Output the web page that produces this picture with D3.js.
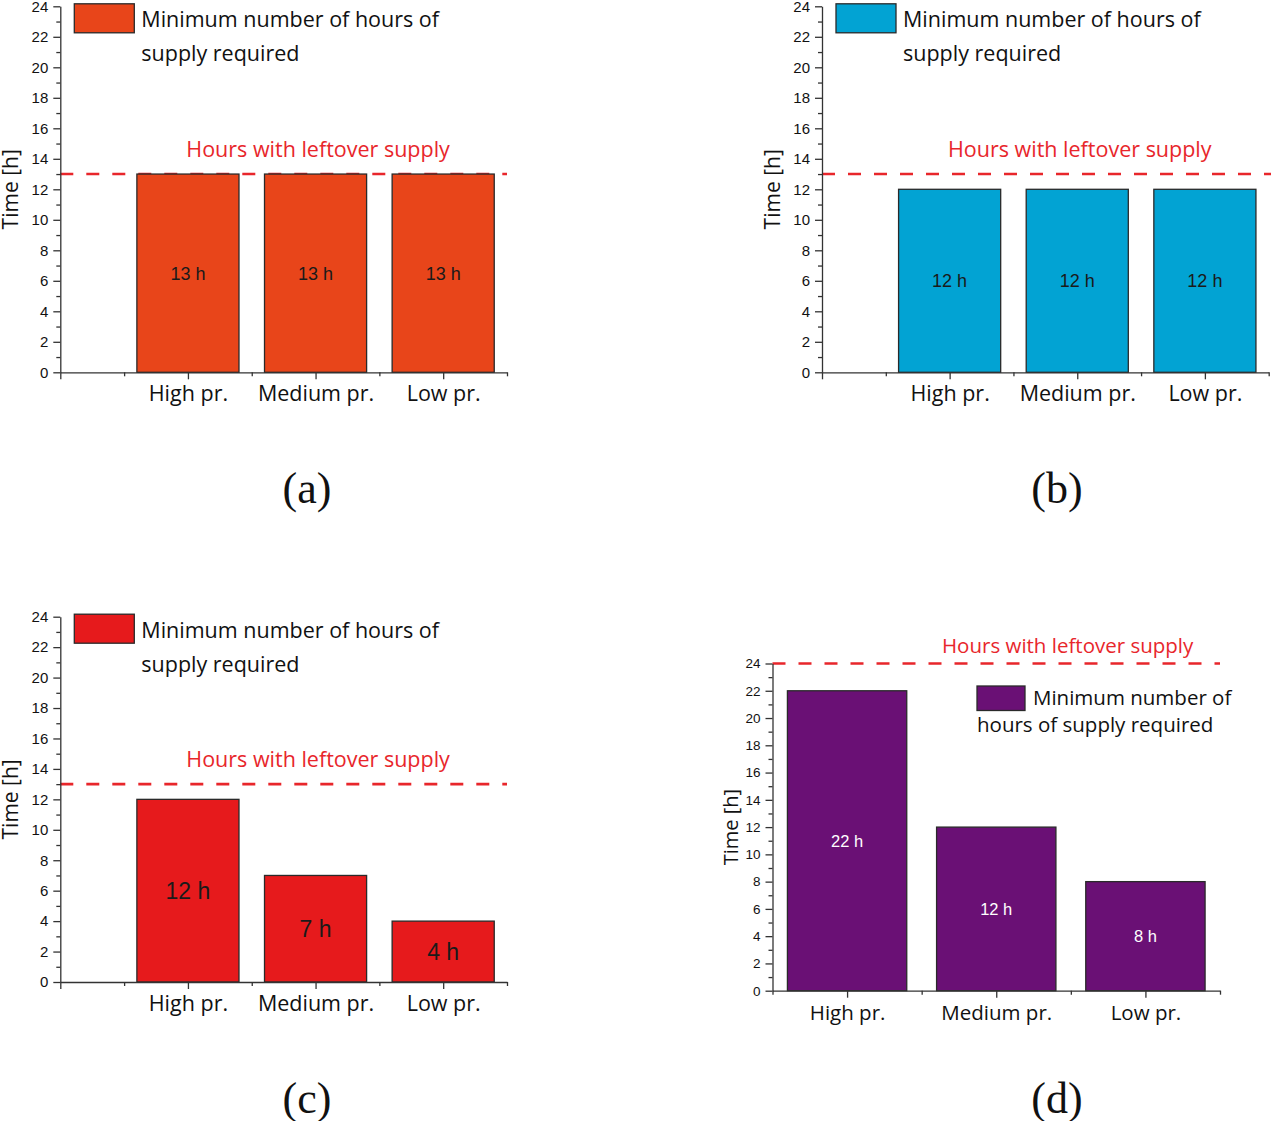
<!DOCTYPE html>
<html>
<head>
<meta charset="utf-8">
<script src="https://cdn.jsdelivr.net/npm/d3@7"></script>
<style>
  body { margin: 0; background: #fff; }
  svg { display: block; }
</style>
</head>
<body>
<div id="chart"></div>
<script>
// data
var categories = ["High pr.", "Medium pr.", "Low pr."];
var hoursA = [13, 13, 13];
var hoursB = [12, 12, 12];
var hoursC = [12, 7, 4];
var hoursD = [22, 12, 8];
var leftoverA = 13, leftoverB = 13, leftoverC = 13, leftoverD = 24;
var yMax = 24;
var yMajorTicks = [0, 2, 4, 6, 8, 10, 12, 14, 16, 18, 20, 22, 24];
var yMinorTicks = [1, 3, 5, 7, 9, 11, 13, 15, 17, 19, 21, 23];
var yTitle = "Time [h]";
var leftoverText = "Hours with leftover supply";
var legendLines = ["Minimum number of hours of", "supply required"];
var legendLinesD = ["Minimum number of", "hours of supply required"];
var captions = ["(a)", "(b)", "(c)", "(d)"];

var W = 1271, H = 1121;
var RED = "#e8262b";
var sans = "'Open Sans', 'Noto Sans', sans-serif";
var arial = "'Liberation Sans', Arial, sans-serif";

var svg = d3.select("#chart").append("svg")
    .attr("width", W)
    .attr("height", H);

// layout of each panel (pixels)
var panels = [
  { values: hoursA, leftover: leftoverA, color: "#e8451a", caption: captions[0],
    xDom: [0, 3.5], x0: 60.3, x1: 507, yTop: 6.3, yBot: 372.3, lineEnd: 507,
    tickFont: 15, catFont: 21.5, barFont: 18, barColor: "#1a1a1a", capX: 307, capY: 503, style: "top" },
  { values: hoursB, leftover: leftoverB, color: "#02a3d3", caption: captions[1],
    xDom: [0, 3.5], x0: 822, x1: 1268.7, yTop: 6.3, yBot: 372.3, lineEnd: 1271,
    tickFont: 15, catFont: 21.5, barFont: 18, barColor: "#1a1a1a", capX: 1057, capY: 503, style: "top" },
  { values: hoursC, leftover: leftoverC, color: "#e61a1c", caption: captions[2],
    xDom: [0, 3.5], x0: 60.3, x1: 507, yTop: 616.7, yBot: 982, lineEnd: 507,
    tickFont: 15, catFont: 21.5, barFont: 23, barColor: "#1a1a1a", capX: 307, capY: 1113, style: "top" },
  { values: hoursD, leftover: leftoverD, color: "#6a1075", caption: captions[3],
    xDom: [0.5, 3.5], x0: 772.5, x1: 1220, yTop: 663.5, yBot: 990.7, lineEnd: 1220,
    tickFont: 13.5, catFont: 20.5, barFont: 16.5, barColor: "#ffffff", capX: 1057, capY: 1113, style: "side" }
];

panels.forEach(drawPanel);

function drawPanel(p) {
    var g = svg.append("g");
    var x = d3.scaleLinear().domain(p.xDom).range([p.x0, p.x1]);
    var y = d3.scaleLinear().domain([0, yMax]).range([p.yBot, p.yTop]);
    var step = x(1) - x(0);
    var bw = step * 0.8;

    // dashed leftover line (under the bars)
    g.append("line")
        .attr("x1", x(p.xDom[0])).attr("x2", p.lineEnd)
        .attr("y1", y(p.leftover)).attr("y2", y(p.leftover))
        .attr("stroke", RED).attr("stroke-width", 2.6)
        .attr("stroke-dasharray", "13,13");

    // bars
    g.selectAll("rect.bar")
        .data(p.values)
        .enter()
        .append("rect")
        .attr("class", "bar")
        .attr("x", function(d, i) { return x(i + 1) - bw / 2; })
        .attr("y", function(d) { return y(d); })
        .attr("width", bw)
        .attr("height", function(d) { return y(0) - y(d); })
        .attr("fill", p.color)
        .attr("stroke", "#2a2a2a")
        .attr("stroke-width", 1.3);

    // value labels in the middle of each bar
    g.selectAll("text.val")
        .data(p.values)
        .enter()
        .append("text")
        .attr("class", "val")
        .attr("x", function(d, i) { return x(i + 1); })
        .attr("y", function(d) { return (y(d) + y(0)) / 2; })
        .attr("dy", "0.36em")
        .attr("text-anchor", "middle")
        .attr("font-family", arial)
        .attr("font-size", p.barFont)
        .attr("fill", p.barColor)
        .text(function(d) { return d + " h"; });

    // y axis, major + minor ticks
    var yAxis = g.append("g")
        .attr("transform", "translate(" + p.x0 + ",0)")
        .call(d3.axisLeft(y).tickValues(yMajorTicks).tickSize(7).tickSizeOuter(0).tickPadding(5));
    g.append("g")
        .attr("transform", "translate(" + p.x0 + ",0)")
        .call(d3.axisLeft(y).tickValues(yMinorTicks).tickSize(4).tickSizeOuter(0).tickFormat(""))
        .select(".domain").remove();
    yAxis.selectAll("text")
        .attr("font-family", arial)
        .attr("font-size", p.tickFont)
        .attr("fill", "#111");

    // x axis
    var majors = p.xDom[0] === 0 ? [0, 1, 2, 3] : [1, 2, 3];
    var minors = [0.5, 1.5, 2.5, 3.5];
    var xAxis = g.append("g")
        .attr("transform", "translate(0," + p.yBot + ")")
        .call(d3.axisBottom(x).tickValues(majors).tickSize(7).tickSizeOuter(0)
            .tickFormat(function(d) { return categories[d - 1] || ""; }));
    g.append("g")
        .attr("transform", "translate(0," + p.yBot + ")")
        .call(d3.axisBottom(x).tickValues(minors).tickSize(4).tickSizeOuter(0).tickFormat(""))
        .select(".domain").remove();
    xAxis.selectAll("text")
        .attr("y", 29)
        .attr("dy", 0)
        .attr("font-family", sans)
        .attr("font-size", p.catFont)
        .attr("fill", "#111");

    svg.selectAll(".domain, .tick line")
        .attr("stroke", "#333")
        .attr("stroke-width", 1.3);

    // y title
    var tx = p.style === "top" ? p.x0 - 50 : p.x0 - 42;
    g.append("text")
        .attr("transform", "translate(" + tx + "," + y(12) + ") rotate(-90)")
        .attr("dy", "0.36em")
        .attr("text-anchor", "middle")
        .attr("font-family", sans)
        .attr("font-size", p.style === "top" ? 21 : 20)
        .attr("fill", "#111")
        .text(yTitle);

    // leftover label
    g.append("text")
        .attr("x", p.style === "top" ? p.x0 + 126 : p.x0 + 169.5)
        .attr("y", p.style === "top" ? y(p.leftover) - 17 : y(p.leftover) - 11)
        .attr("font-family", sans)
        .attr("font-size", p.style === "top" ? 21.5 : 20.5)
        .attr("fill", RED)
        .text(leftoverText);

    // legend
    if (p.style === "top") {
        g.append("rect")
            .attr("x", p.x0 + 14).attr("y", y(yMax) - 2.5)
            .attr("width", 60).attr("height", 29)
            .attr("fill", p.color).attr("stroke", "#2a2a2a").attr("stroke-width", 1.3);
        g.selectAll("text.leg")
            .data(legendLines)
            .enter()
            .append("text")
            .attr("class", "leg")
            .attr("x", p.x0 + 81)
            .attr("y", function(d, i) { return y(yMax) + 21 + i * 34; })
            .attr("font-family", sans)
            .attr("font-size", 21.5)
            .attr("fill", "#111")
            .text(function(d) { return d; });
    } else {
        g.append("rect")
            .attr("x", p.x0 + 204.5).attr("y", y(yMax) + 22.5)
            .attr("width", 48).attr("height", 24.5)
            .attr("fill", p.color).attr("stroke", "#2a2a2a").attr("stroke-width", 1.3);
        g.append("text")
            .attr("x", p.x0 + 260.5).attr("y", y(yMax) + 41.5)
            .attr("font-family", sans).attr("font-size", 20.5).attr("fill", "#111")
            .text(legendLinesD[0]);
        g.append("text")
            .attr("x", p.x0 + 204.5).attr("y", y(yMax) + 68.5)
            .attr("font-family", sans).attr("font-size", 20.5).attr("fill", "#111")
            .text(legendLinesD[1]);
    }

    // panel caption
    svg.append("text")
        .attr("x", p.capX).attr("y", p.capY)
        .attr("text-anchor", "middle")
        .attr("font-family", "'Liberation Serif', 'Times New Roman', serif")
        .attr("font-size", 44)
        .attr("fill", "#111")
        .text(p.caption);
}
</script>
</body>
</html>
